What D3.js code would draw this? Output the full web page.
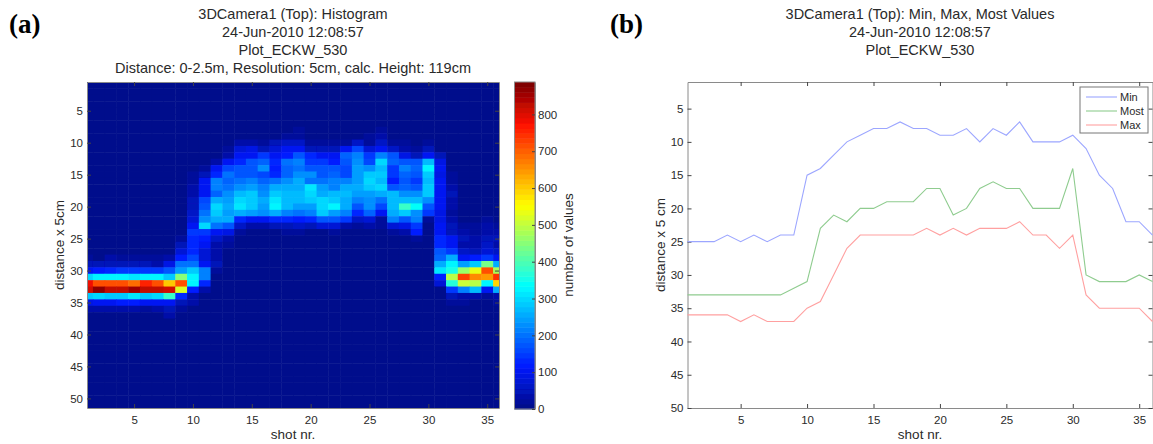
<!DOCTYPE html>
<html>
<head>
<meta charset="utf-8">
<script src="https://cdn.jsdelivr.net/npm/d3@7"></script>
<style>
  html, body { margin: 0; padding: 0; background: #fff; overflow: hidden; }
  text { font-family: "Liberation Sans", sans-serif; fill: #2a2a2a; }
  .panel { font-family: "Liberation Serif", serif; font-weight: bold; font-size: 27px; fill: #000; }
  .title { font-size: 14.5px; }
  .label { font-size: 13.5px; }
  .legendText { font-size: 11px; }
  .tick text { font-size: 11.5px; }
  .domain { stroke: #8a8a8a; }
  .tick line { stroke: #444; }
</style>
</head>
<body>
<svg id="chart" width="1153" height="444"></svg>
<script>
// panel (b) line values, shot 1..36
const minValues = [25,25,25,24,25,24,25,24,24,15,14,12,10,9,8,8,7,8,8,9,9,8,10,8,9,7,10,10,10,9,11,15,17,22,22,24]
const mostValues = [33,33,33,33,33,33,33,33,32,31,23,21,22,20,20,19,19,19,17,17,21,20,17,16,17,17,20,20,20,14,30,31,31,31,30,31]
const maxValues = [36,36,36,36,37,36,37,37,37,35,34,30,26,24,24,24,24,24,23,24,23,24,23,23,23,22,24,24,26,24,33,35,35,35,35,37]
const lineNames = ["Min", "Most", "Max"]
const lineColors = ["#9ca6ff", "#8fcc8f", "#ffa0a0"]

const xTicks = [5,10,15,20,25,30,35]
const yTicks = [5,10,15,20,25,30,35,40,45,50]
const colorTicks = [0,100,200,300,400,500,600,700,800]

// panel (a) histogram, number of values per row/shot. Rows above 8 and below 37 are all 0
const firstRow = 8
const histogram = [
  [0,0,0,0,0,0,0,0,0, 0,0,0,0,0,0,0,0,5, 15,0,0,0,0,0,0,20,0, 0,0,0,0,0,0,0,0,0],
  [0,0,0,0,0,0,0,0,0, 0,0,0,0,5,10,5,10,15, 20,0,0,0,5,10,15,40,5, 0,0,0,0,0,0,0,0,0],
  [0,0,0,0,0,0,0,0,0, 0,0,0,0,30,35,25,50,60, 60,25,15,25,15,60,25,65,15, 15,5,25,5,0,0,0,0,0],
  [0,0,0,0,0,0,0,0,0, 0,0,0,15,70,90,50,70,105, 100,45,50,55,110,160,80,100,60, 35,15,50,10,0,0,0,0,0],
  [0,0,0,0,0,0,0,0,0, 0,0,0,35,110,100,140,100,120, 175,130,110,100,190,220,145,220,180, 90,50,110,45,0,0,0,0,0],
  [0,0,0,0,0,0,0,0,0, 0,0,40,100,135,180,190,130,200, 210,140,150,120,170,230,160,300,190, 180,175,270,95,0,0,0,0,0],
  [0,0,0,0,0,0,0,0,0, 0,15,110,160,170,175,225,120,190, 200,180,180,170,155,240,230,270,150, 210,190,320,100,0,0,0,0,0],
  [0,0,0,0,0,0,0,0,0, 15,55,130,200,170,180,160,130,190, 230,230,180,190,165,240,280,280,140, 190,170,280,95,15,0,0,0,0],
  [0,0,0,0,0,0,0,0,0, 25,100,210,190,195,220,190,200,230, 260,200,200,210,220,240,300,270,120, 170,140,270,100,20,10,0,0,0],
  [0,0,0,0,0,0,0,0,0, 35,100,220,205,235,240,220,260,255, 250,310,240,220,260,250,280,300,180, 190,170,280,100,35,10,0,0,0],
  [0,0,0,0,0,0,0,0,0, 40,100,190,230,275,280,230,285,265, 265,295,255,265,265,240,240,250,265, 230,230,285,100,45,5,0,0,0],
  [0,0,0,0,0,0,0,0,0, 50,160,260,240,305,285,255,310,270, 275,285,295,285,255,210,230,200,275, 265,265,230,105,30,0,0,0,0],
  [0,0,0,0,0,0,0,0,0, 55,180,305,260,310,290,245,320,265, 245,245,305,320,255,180,230,160,275, 375,335,180,100,30,0,0,0,0],
  [0,0,0,0,0,0,0,0,0, 60,200,285,245,250,245,225,255,220, 200,220,285,245,220,125,190,100,255, 280,230,145,90,25,0,0,0,0],
  [0,0,0,0,0,0,0,0,0, 70,230,260,250,130,110,100,130,130, 120,130,170,180,140,60,80,25,220, 170,220,25,90,40,10,10,20,0],
  [0,0,0,0,0,0,0,0,0, 100,300,200,170,60,40,40,45,50, 60,50,75,80,30,25,30,15,80, 90,150,10,100,50,25,15,40,25],
  [0,0,0,0,0,0,0,0,5, 140,145,110,90,15,5,5,5,15, 15,5,10,25,5,5,5,0,15, 30,120,5,110,55,30,20,40,30],
  [0,0,0,0,0,0,5,0,25, 130,115,60,30,0,0,0,0,0, 0,0,0,0,0,0,0,0,0, 0,25,0,130,100,45,35,50,45],
  [0,0,0,0,0,0,0,0,45, 125,100,40,20,0,0,0,0,0, 0,0,0,0,0,0,0,0,0, 0,0,0,130,100,40,40,60,40],
  [5,5,5,5,5,5,5,10,70, 130,70,30,5,0,0,0,0,0, 0,0,0,0,0,0,0,0,0, 0,0,0,180,140,60,50,70,60],
  [25,10,30,25,20,25,25,30,120, 165,70,30,10,0,0,0,0,0, 0,0,0,0,0,0,0,0,0, 0,0,0,190,250,110,120,140,110],
  [50,55,45,45,45,55,40,90,205, 195,110,45,5,0,0,0,0,0, 0,0,0,0,0,0,0,0,0, 0,0,0,260,320,240,280,440,260],
  [100,115,125,150,150,140,150,175,245, 280,210,15,0,0,0,0,0,0, 0,0,0,0,0,0,0,0,0, 0,0,0,310,350,470,540,720,480],
  [300,320,320,320,310,320,320,290,450, 320,220,0,0,0,0,0,0,0, 0,0,0,0,0,0,0,0,0, 0,0,0,120,490,730,660,640,740],
  [780,710,720,720,690,750,720,610,710, 320,125,0,0,0,0,0,0,0, 0,0,0,0,0,0,0,0,0, 0,0,0,70,370,500,490,330,590],
  [810,870,830,830,850,820,820,810,520, 120,40,0,0,0,0,0,0,0, 0,0,0,0,0,0,0,0,0, 0,0,0,0,140,220,270,100,250],
  [280,300,290,290,310,280,300,380,125, 35,10,0,0,0,0,0,0,0, 0,0,0,0,0,0,0,0,0, 0,0,0,0,50,40,30,15,40],
  [90,100,100,120,120,100,110,110,50, 30,5,0,0,0,0,0,0,0, 0,0,0,0,0,0,0,0,0, 0,0,0,0,15,15,10,10,15],
  [30,30,40,30,30,25,40,50,15, 10,0,0,0,0,0,0,0,0, 0,0,0,0,0,0,0,0,0, 0,0,0,0,5,5,5,5,5],
  [0,0,0,0,0,0,0,30,0, 0,0,0,0,0,0,0,0,0, 0,0,0,0,0,0,0,0,0, 0,0,0,0,0,0,0,0,0]
]

const titleA = ["3DCamera1 (Top): Histogram", "24-Jun-2010 12:08:57", "Plot_ECKW_530", "Distance: 0-2.5m, Resolution: 5cm, calc. Height: 119cm"]
const titleB = ["3DCamera1 (Top): Min, Max, Most Values", "24-Jun-2010 12:08:57", "Plot_ECKW_530"]

const colorMax = 888
const nBands = 64
const svg = d3.select("#chart")

// slight blur, the reference is a soft upscaled scan
const defs = svg.append("defs")
defs.append("filter").attr("id", "soft").attr("x", "-2%").attr("y", "-2%").attr("width", "104%").attr("height", "104%")
  .append("feGaussianBlur").attr("stdDeviation", 0.45)

// matlab jet
const jet = d3.scaleLinear()
  .domain([0, 1/8, 3/8, 5/8, 7/8, 1])
  .range(["#000f8c", "#0018ff", "#00ffff", "#ffff00", "#ff1000", "#800000"])
  .clamp(true)
const bandIndex = v => Math.min(Math.floor(v / colorMax * nBands), nBands - 1)
const bandColor = i => jet(i / (nBands - 1))

function frame(g, x, y, w, h) {
  // ticks point inwards on all 4 sides
  g.append("g").attr("transform", `translate(0,${h})`)
    .call(d3.axisBottom(x).tickValues(xTicks).tickSizeInner(-4).tickSizeOuter(0).tickPadding(8))
  g.append("g").call(d3.axisLeft(y).tickValues(yTicks).tickSizeInner(-4).tickSizeOuter(0).tickPadding(4))
  g.append("g").call(d3.axisTop(x).tickValues(xTicks).tickFormat("").tickSizeInner(-4).tickSizeOuter(0))
  g.append("g").attr("transform", `translate(${w},0)`)
    .call(d3.axisRight(y).tickValues(yTicks).tickFormat("").tickSizeInner(-4).tickSizeOuter(0))
}

function titles(lines, cx) {
  svg.selectAll(null).data(lines).enter().append("text")
    .attr("class", "title")
    .attr("x", cx)
    .attr("y", (d, i) => 19 + i * 18)
    .attr("text-anchor", "middle")
    .text(d => d)
}

// ---- panel a: histogram
const ax = { left: 87, top: 82, w: 412, h: 326 }
const xA = d3.scaleLinear().domain([1, 36]).range([0, ax.w])
const yA = d3.scaleLinear().domain([0.5, 51.5]).range([0, ax.h])
const gA = svg.append("g").attr("transform", `translate(${ax.left},${ax.top})`)

const cells = []
d3.range(1, 52).forEach(row => {
  const values = histogram[row - firstRow]
  d3.range(1, 37).forEach(shot => {
    cells.push({ row: row, shot: shot, value: values ? values[shot - 1] : 0 })
  })
})

defs.append("clipPath").attr("id", "clipA").append("rect").attr("width", ax.w).attr("height", ax.h)
gA.append("g").attr("clip-path", "url(#clipA)")
  .append("g").attr("filter", "url(#soft)")
  .selectAll("rect").data(cells).enter().append("rect")
    .attr("x", d => xA(d.shot - 0.5))
    .attr("y", d => yA(d.row - 0.5))
    .attr("width", xA(2) - xA(1) + 0.5)
    .attr("height", yA(2) - yA(1) + 0.5)
    .attr("fill", d => bandColor(bandIndex(d.value)))
frame(gA, xA, yA, ax.w, ax.h)

titles(titleA, ax.left + ax.w / 2)
svg.append("text").attr("class", "panel").attr("x", 9).attr("y", 33).text("(a)")
svg.append("text").attr("class", "label").attr("x", ax.left + ax.w / 2).attr("y", 439).attr("text-anchor", "middle").text("shot nr.")
svg.append("text").attr("class", "label").attr("transform", `translate(64,${ax.top + ax.h / 2}) rotate(-90)`).attr("text-anchor", "middle").text("distance x 5cm")

// colorbar
const cb = { left: 514.5, top: 82, w: 20.5, h: 327 }
const yC = d3.scaleLinear().domain([0, colorMax]).range([cb.h, 0])
const gC = svg.append("g").attr("transform", `translate(${cb.left},${cb.top})`)
gC.append("g").attr("filter", "url(#soft)")
  .selectAll("rect").data(d3.range(nBands)).enter().append("rect")
    .attr("x", 0)
    .attr("y", d => yC((d + 1) * colorMax / nBands))
    .attr("width", cb.w)
    .attr("height", cb.h / nBands + 0.5)
    .attr("fill", d => bandColor(d))
gC.append("rect").attr("width", cb.w).attr("height", cb.h).attr("fill", "none").attr("stroke", "#8a8a8a")
gC.append("g").attr("transform", `translate(${cb.w},0)`)
  .call(d3.axisRight(yC).tickValues(colorTicks).tickSizeInner(-3).tickSizeOuter(0).tickPadding(3))
svg.append("text").attr("class", "label").attr("transform", `translate(573,${cb.top + 163}) rotate(-90)`).attr("text-anchor", "middle").text("number of values")

// ---- panel b: lines
const bx = { left: 687.5, top: 82, w: 465, h: 326 }
const xB = d3.scaleLinear().domain([1, 36]).range([0, bx.w])
const yB = d3.scaleLinear().domain([1, 50]).range([0, bx.h])
const gB = svg.append("g").attr("transform", `translate(${bx.left},${bx.top})`)
frame(gB, xB, yB, bx.w, bx.h)

const line = d3.line().x((d, i) => xB(i + 1)).y(d => yB(d))
gB.selectAll("path.series").data([minValues, mostValues, maxValues]).enter().append("path")
  .attr("class", "series")
  .attr("d", line)
  .attr("fill", "none")
  .attr("stroke", (d, i) => lineColors[i])
  .attr("stroke-width", 1.1)

titles(titleB, bx.left + bx.w / 2)
svg.append("text").attr("class", "panel").attr("x", 610).attr("y", 33).text("(b)")
svg.append("text").attr("class", "label").attr("x", bx.left + bx.w / 2).attr("y", 439).attr("text-anchor", "middle").text("shot nr.")
svg.append("text").attr("class", "label").attr("transform", `translate(665,${bx.top + bx.h / 2}) rotate(-90)`).attr("text-anchor", "middle").text("distance x 5 cm")

// legend
const legend = svg.append("g").attr("transform", "translate(1080,87)")
legend.append("rect").attr("width", 68).attr("height", 46).attr("fill", "#fff").attr("stroke", "#777")
lineNames.forEach((name, i) => {
  const y = 10 + i * 14
  legend.append("line").attr("x1", 6).attr("x2", 37).attr("y1", y).attr("y2", y).attr("stroke", lineColors[i]).attr("stroke-width", 1.1)
  legend.append("text").attr("class", "legendText").attr("x", 40).attr("y", y + 4).text(name)
})
</script>
</body>
</html>
